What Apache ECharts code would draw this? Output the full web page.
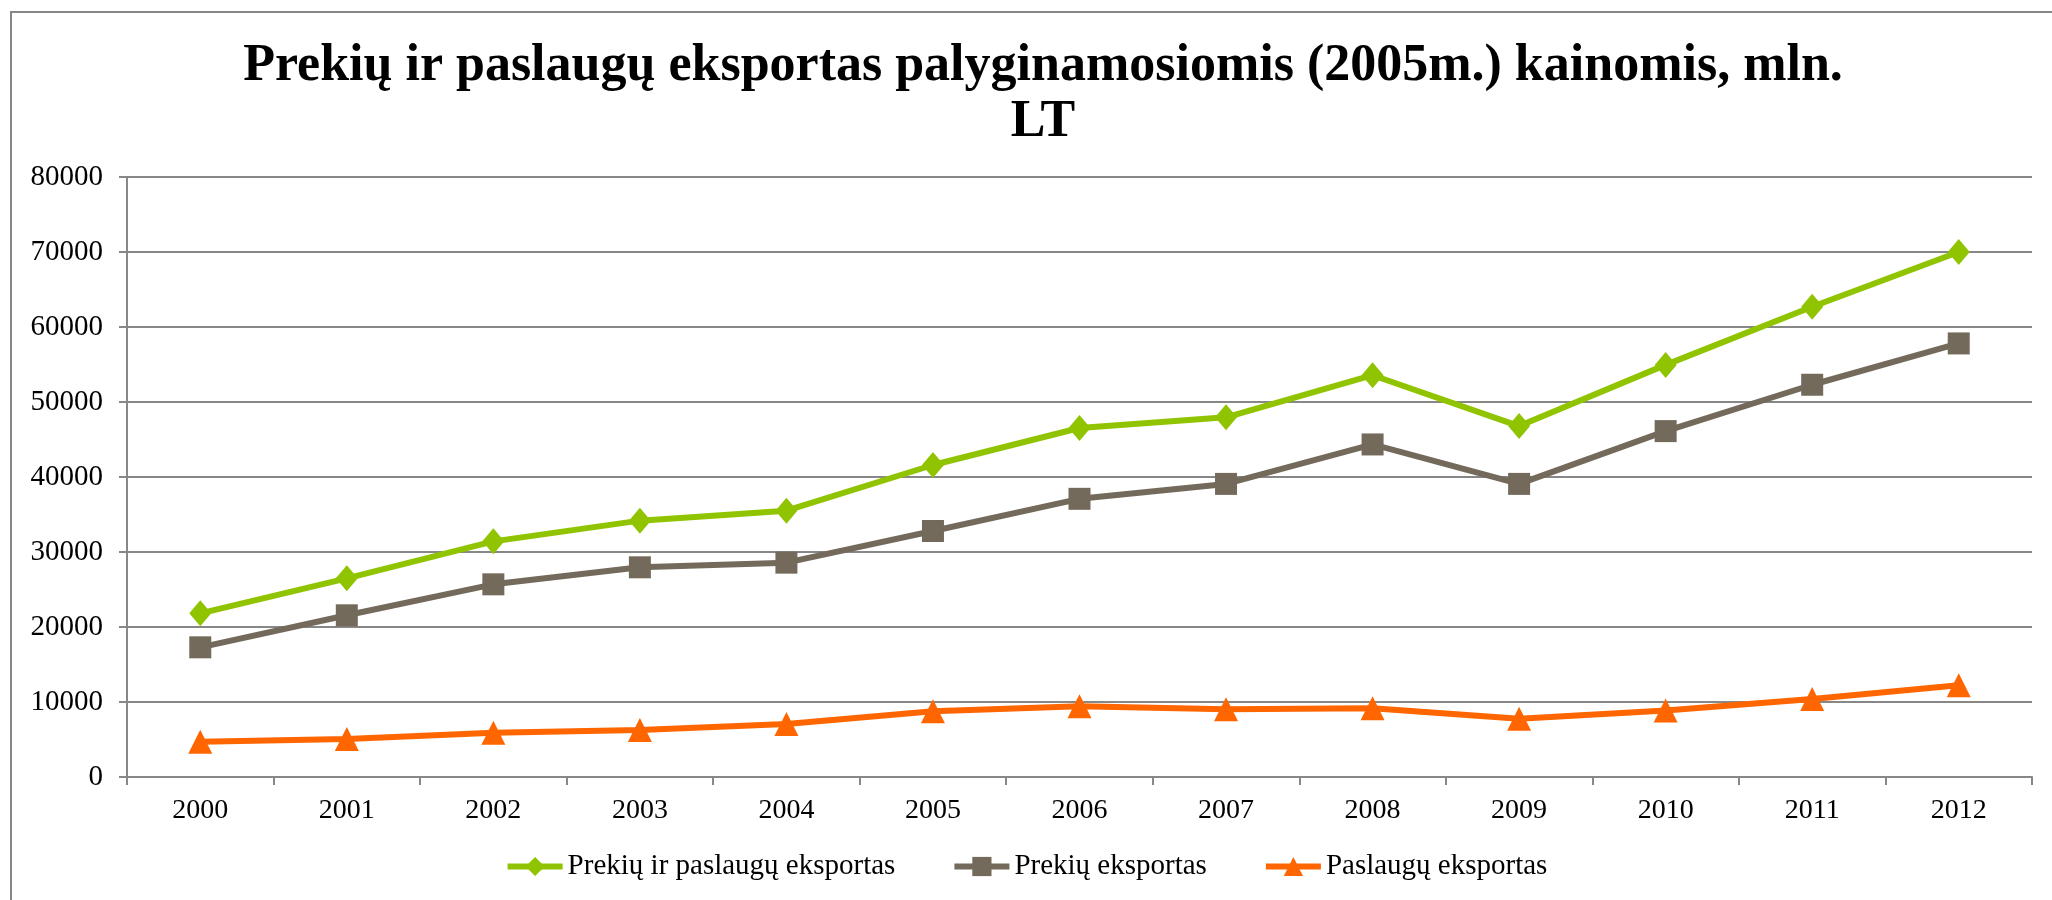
<!DOCTYPE html>
<html>
<head>
<meta charset="utf-8">
<script src="https://cdn.jsdelivr.net/npm/echarts@6/dist/echarts.min.js"></script>
<style>
	html, body { margin: 0; padding: 0; background: #fff; }
	#chart { width: 2052px; height: 900px; }
</style>
</head>
<body>
<div id="chart"></div>
<script>
const years = ["2000", "2001", "2002", "2003", "2004", "2005", "2006", "2007", "2008", "2009", "2010", "2011", "2012"]
const totalExport = [21820, 26490, 31420, 34180, 35510, 41600, 46530, 47960, 53570, 46790, 54950, 62700, 70000]
const goodsExport = [17290, 21560, 25690, 27960, 28580, 32800, 37090, 39080, 44340, 39080, 46120, 52300, 57810]
const servicesExport = [4710, 5070, 5910, 6270, 7070, 8760, 9440, 9030, 9180, 7760, 8880, 10410, 12240]
const seriesNames = ["Prekių ir paslaugų eksportas", "Prekių eksportas", "Paslaugų eksportas"]

const chart = echarts.init(document.getElementById("chart"))
const font = "'Liberation Serif', 'DejaVu Serif', serif"
const gridColor = "#878787"

const lineSeries = (name, data, color, symbol, size) => ({
	name: name,
	type: "line",
	data: data,
	symbol: symbol,
	symbolSize: size,
	showSymbol: true,
	lineStyle: { color: color, width: 6 },
	itemStyle: { color: color },
	emphasis: { disabled: true },
	animation: false
})

const option = {
	backgroundColor: "#fff",
	textStyle: { fontFamily: font },
	title: {
		text: "Prekių ir paslaugų eksportas palyginamosiomis (2005m.) kainomis, mln.\nLT",
		left: 1038,
		textAlign: "center",
		top: 34,
		textStyle: {
			fontFamily: font,
			fontSize: 52,
			fontWeight: "bold",
			color: "#000",
			lineHeight: 56
		}
	},
	graphic: [
		{
			type: "rect",
			shape: { x: 11, y: 12, width: 2100, height: 1000 },
			style: { fill: "none", stroke: gridColor, lineWidth: 2 },
			silent: true
		}
	],
	legend: {
		bottom: 14,
		left: "center",
		itemWidth: 55,
		itemHeight: 24,
		itemGap: 56,
		lineStyle: { width: 6 },
		textStyle: { fontFamily: font, fontSize: 29, color: "#000" },
		data: seriesNames
	},
	grid: {
		left: 127,
		right: 20,
		top: 177,
		bottom: 123,
		containLabel: false
	},
	xAxis: {
		type: "category",
		data: years,
		boundaryGap: true,
		axisLine: { lineStyle: { color: gridColor, width: 2 } },
		axisTick: { show: true, length: 8, lineStyle: { color: gridColor, width: 2 } },
		axisLabel: { color: "#000", fontSize: 28, fontFamily: font, margin: 20 },
		splitLine: { show: false }
	},
	yAxis: {
		type: "value",
		min: 0,
		max: 80000,
		interval: 10000,
		axisLine: { show: true, lineStyle: { color: gridColor, width: 2 } },
		axisTick: { show: true, length: 8, lineStyle: { color: gridColor, width: 2 } },
		axisLabel: { color: "#000", fontSize: 29, fontFamily: font, margin: 24, formatter: v => String(v) },
		splitLine: { show: true, lineStyle: { color: gridColor, width: 2 } }
	},
	series: [
		lineSeries(seriesNames[0], totalExport, "#90c400", "diamond", [22, 26]),
		lineSeries(seriesNames[1], goodsExport, "#736a5b", "rect", 22),
		lineSeries(seriesNames[2], servicesExport, "#ff6600", "triangle", 24)
	]
}

chart.setOption(option)
</script>
</body>
</html>
